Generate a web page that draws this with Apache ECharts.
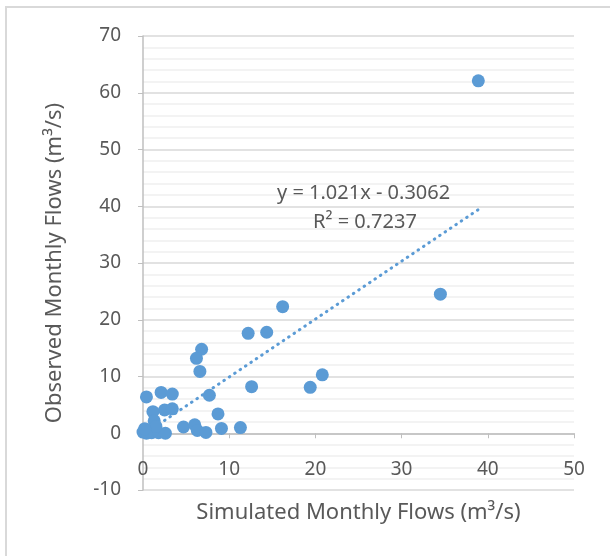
<!DOCTYPE html>
<html>
<head>
<meta charset="utf-8">
<script src="https://cdn.jsdelivr.net/npm/echarts@6/dist/echarts.min.js"></script>
<style>
    html, body { margin: 0; padding: 0; background: #fff; }
    #scatter_trend { width: 610px; height: 556px; }
</style>
</head>
<body>
<div id="scatter_trend"></div>
<script>
// Monthly flows (m3/s)
var simulated = [38.9, 34.5, 16.2, 12.2, 14.35, 6.8, 6.2, 6.6, 20.8, 19.4, 12.6,
    0.4, 2.1, 3.4, 7.7, 1.15, 2.5, 3.4, 8.7, 1.3, 4.7, 6.0, 6.3, 7.3, 9.1, 11.3,
    0.0, 0.4, 0.8, 1.0, 1.8, 2.6, 1.5, 0.2];
var observed = [62.1, 24.5, 22.3, 17.6, 17.8, 14.8, 13.2, 10.9, 10.3, 8.1, 8.2,
    6.4, 7.2, 6.9, 6.7, 3.8, 4.1, 4.3, 3.4, 2.2, 1.1, 1.5, 0.5, 0.15, 0.85, 1.0,
    0.2, 0.0, 0.6, 0.1, 0.1, 0.0, 1.2, 0.8];

// Linear trendline as printed on the chart
var trendSlope = 1.021;
var trendIntercept = -0.3062;
var trendText = ['y = 1.021x - 0.3062', 'R\u00b2 = 0.7237'];

var xTicks = { min: 0, max: 50, interval: 10 };
var yTicks = { min: -10, max: 70, interval: 10 };

document.addEventListener('DOMContentLoaded', function() {

    var el = document.getElementById('scatter_trend');
    var chart = echarts.init(el);

    var points = simulated.map(function(x, i) { return [x, observed[i]]; });
    var xMin = Math.min.apply(null, simulated);
    var xMax = Math.max.apply(null, simulated);
    var trend = [
        [xMin, trendSlope * xMin + trendIntercept],
        [xMax, trendSlope * xMax + trendIntercept]
    ];

    var textColor = '#595959';
    var fontFamily = '"Noto Sans", "Open Sans", sans-serif';

    var options = {
        animation: false,
        textStyle: { fontFamily: fontFamily },
        grid: { left: 143, right: 36, top: 36, bottom: 66, outerBoundsMode: 'none' },
        graphic: [
            // chart frame (top and left edges visible)
            {
                type: 'rect',
                shape: { x: 6, y: 7, width: 800, height: 800 },
                style: { fill: 'none', stroke: '#d9d9d9', lineWidth: 2 },
                silent: true
            },
            {
                type: 'text',
                left: 277, top: 183, z: 100,
                style: { text: trendText[0], fill: textColor, font: '20px ' + fontFamily }
            },
            {
                type: 'text',
                left: 313, top: 212, z: 100,
                style: { text: trendText[1], fill: textColor, font: '20px ' + fontFamily }
            }
        ],
        xAxis: {
            type: 'value',
            min: xTicks.min,
            max: xTicks.max,
            interval: xTicks.interval,
            name: 'Simulated Monthly Flows (m\u00b3/s)',
            nameLocation: 'middle',
            nameGap: 12,
            nameTextStyle: { fontSize: 22, color: textColor },
            axisLine: { onZero: true, lineStyle: { color: '#bfbfbf', width: 1.5 } },
            axisTick: { show: true, length: 5, lineStyle: { color: '#bfbfbf' } },
            axisLabel: { fontSize: 19, color: textColor, margin: -30 },
            splitLine: { show: false }
        },
        yAxis: {
            type: 'value',
            min: yTicks.min,
            max: yTicks.max,
            interval: yTicks.interval,
            name: 'Observed Monthly Flows (m\u00b3/s)',
            nameLocation: 'middle',
            nameGap: 77,
            nameTextStyle: { fontSize: 22, color: textColor },
            axisLine: { show: true, lineStyle: { color: '#bfbfbf', width: 1.5 } },
            axisTick: { show: true, length: 5, lineStyle: { color: '#bfbfbf' } },
            axisLabel: { fontSize: 19, color: textColor, margin: 22 },
            splitLine: { show: true, lineStyle: { color: '#d9d9d9', width: 1.5 } },
            minorTick: { show: false, splitNumber: 5 },
            minorSplitLine: { show: true, lineStyle: { color: '#f0f0f0', width: 1.5 } }
        },
        series: [
            {
                name: 'Flows',
                type: 'scatter',
                symbolSize: 13,
                itemStyle: { color: '#5b9bd5', opacity: 1 },
                data: points,
                z: 3
            },
            {
                name: 'Linear (Flows)',
                type: 'line',
                symbol: 'none',
                lineStyle: { color: '#5b9bd5', width: 3, type: [0.5, 6], cap: 'round' },
                data: trend,
                z: 2
            }
        ]
    };

    chart.setOption(options);
});
</script>
</body>
</html>
